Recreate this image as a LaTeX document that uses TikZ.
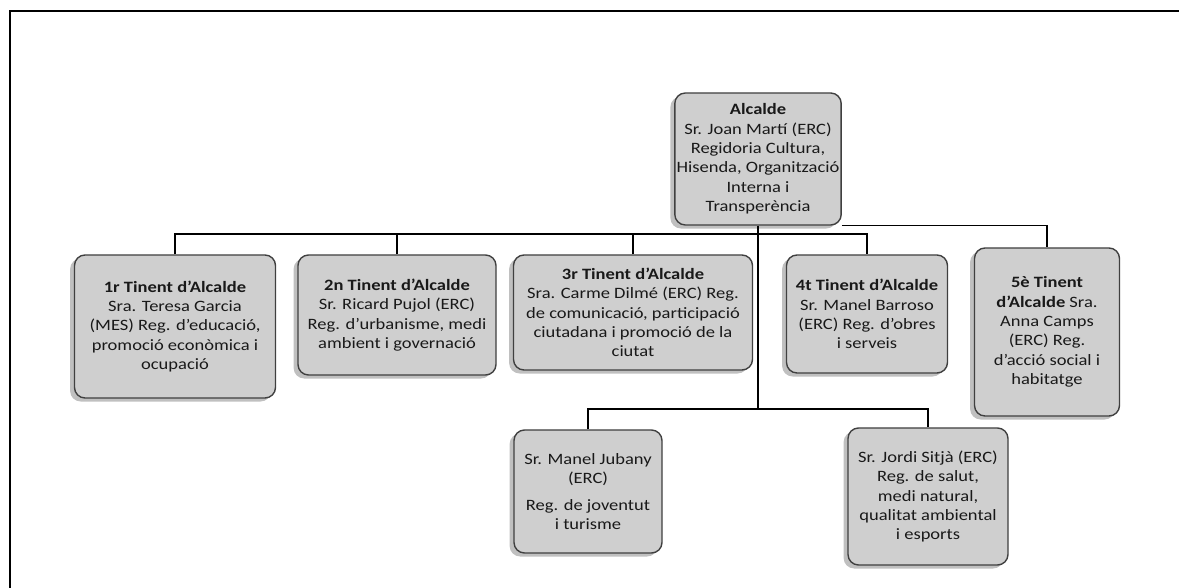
\documentclass[tikz,border=0pt]{standalone}
\usepackage{fontspec}
\setmainfont{Carlito}[FakeStretch=1.17]
\usetikzlibrary{shadows}

\begin{document}
\begin{tikzpicture}
    \useasboundingbox (0,0) rectangle (23.58,-11.76);
    \draw[line width=1.4pt] (0.2,-11.76) -- (0.2,-0.22) -- (23.58,-0.22);

    \begin{scope}[
            every node/.style={rectangle, rounded corners=6pt, draw=black!75, thick,
                fill=gray!38, align=center, text=black!90, inner xsep=1pt,
                font=\fontsize{9}{11}\selectfont,
                drop shadow={shadow xshift=-2.5pt, shadow yshift=-2pt, fill=black!45, opacity=0.55}}
        ]

        \node[minimum width=3.28cm, minimum height=2.64cm] (alc) at (15.16,-3.18)
            {\textbf{Alcalde}\\Sr. Joan Martí (ERC)\\Regidoria Cultura,\\Hisenda, Organització\\Interna i\\Transperència};

        \node[minimum width=4.02cm, minimum height=2.86cm] (t1) at (3.50,-6.53)
            {\textbf{1r Tinent d'Alcalde}\\Sra. Teresa Garcia\\(MES) Reg. d'educació,\\promoció econòmica i\\ocupació};
        \node[minimum width=3.96cm, minimum height=2.40cm] (t2) at (7.94,-6.30)
            {\textbf{2n Tinent d'Alcalde}\\Sr. Ricard Pujol (ERC)\\Reg. d'urbanisme, medi\\ambient i governació};
        \node[minimum width=4.78cm, minimum height=2.30cm] (t3) at (12.66,-6.25)
            {\textbf{3r Tinent d'Alcalde}\\Sra. Carme Dilmé (ERC) Reg.\\de comunicació, participació\\ciutadana i promoció de la\\ciutat};
        \node[minimum width=3.22cm, minimum height=2.36cm] (t4) at (17.34,-6.28)
            {\textbf{4t Tinent d'Alcalde}\\Sr. Manel Barroso\\(ERC) Reg. d'obres\\i serveis};
        \node[minimum width=2.90cm, minimum height=3.36cm] (t5) at (20.94,-6.64)
            {\textbf{5è Tinent}\\\textbf{d'Alcalde} Sra.\\Anna Camps\\(ERC) Reg.\\d'acció social i\\habitatge};

        \node[minimum width=2.96cm, minimum height=2.46cm] (r1) at (11.76,-9.83)
            {Sr. Manel Jubany\\(ERC)\\[4pt]Reg. de joventut\\i turisme};
        \node[minimum width=3.20cm, minimum height=2.74cm] (r2) at (18.56,-9.93)
            {Sr. Jordi Sitjà (ERC)\\Reg. de salut,\\medi natural,\\qualitat ambiental\\i esports};
    \end{scope}

    \coordinate (bus) at (0,-4.68);
    \coordinate (low) at (0,-8.18);

    \begin{scope}[line width=0.9pt]
        \draw (t1.north) -- (t1.north |- bus) -- (t4.north |- bus) -- (t4.north);
        \draw (t2.north) -- (t2.north |- bus);
        \draw (t3.north) -- (t3.north |- bus);
        \draw (alc.south) -- (alc.south |- low);
        \draw (r1.north) -- (r1.north |- low) -- (r2.north |- low) -- (r2.north);
        \draw (alc.south east) -- (alc.south east -| t5.north) -- (t5.north);
    \end{scope}
\end{tikzpicture}
\end{document}
